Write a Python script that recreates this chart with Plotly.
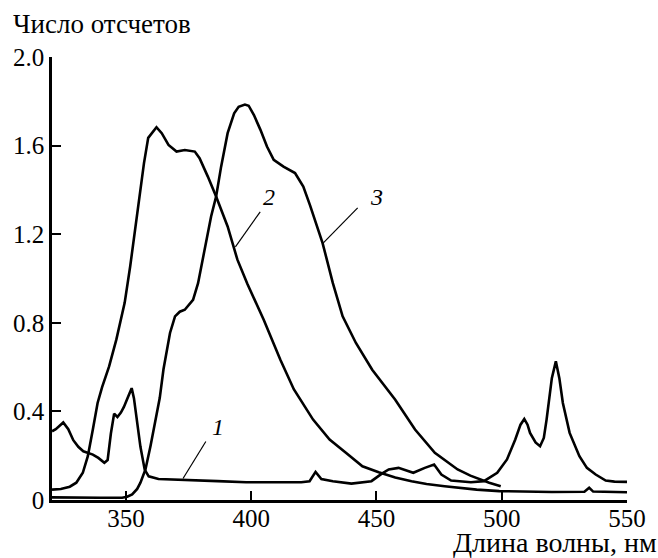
import plotly.graph_objects as go

# Curve 1
x1 = [320.5, 322, 325, 327, 329, 331, 333, 336.8, 339, 341.4, 342.7, 344, 345.3, 346.6, 348, 349.2, 351, 352.3,
      353.2, 354.1, 355.8, 357.5, 359.1, 363, 372, 386.6, 398, 410, 420, 423.3, 425.7, 428, 432.6, 440, 448,
      452, 454.9, 458.8, 462.7, 464.7, 469.3, 473, 475.9, 479.8, 487.7, 492.9, 498.2, 502.1, 505.4, 507.5,
      509, 510.3, 511.3, 513.5, 515.3, 516.8, 517.9, 520, 521.6, 523, 524.4, 527.1, 531, 534, 537.5, 541.5,
      545, 550]
y1 = [0.31, 0.32, 0.35, 0.32, 0.27, 0.24, 0.22, 0.205, 0.19, 0.168, 0.18, 0.30, 0.39, 0.375, 0.395, 0.42, 0.47,
      0.505, 0.46, 0.39, 0.24, 0.137, 0.107, 0.095, 0.092, 0.085, 0.08, 0.08, 0.08, 0.085, 0.127, 0.095, 0.085,
      0.074, 0.085, 0.118, 0.138, 0.145, 0.13, 0.123, 0.145, 0.16, 0.115, 0.088, 0.08, 0.085, 0.123, 0.183,
      0.273, 0.34, 0.366, 0.34, 0.303, 0.26, 0.243, 0.28, 0.363, 0.55, 0.626, 0.55, 0.438, 0.303, 0.198, 0.145,
      0.115, 0.088, 0.083, 0.082]

# Curve 2
x2 = [320.5, 324, 327.6, 330.2, 332.8, 334.8, 336.8, 338.7, 340.5, 343.3, 346.2, 349.5, 351.7, 353.6, 355.3,
      357.2, 358.9, 360.2, 362.2, 364.3, 367, 370.2, 373.5, 377.5, 379.4, 382.7, 386, 390.6, 394.5, 398.5, 405,
      411.6, 417, 424.7, 431.3, 437.8, 444.4, 450.9, 457.5, 464, 470, 477.2, 484, 490, 499, 505, 520, 533,
      534.9, 536.5, 550]
y2 = [0.047, 0.05, 0.06, 0.078, 0.123, 0.198, 0.318, 0.438, 0.51, 0.603, 0.725, 0.89, 1.054, 1.21, 1.37, 1.52,
      1.635, 1.655, 1.683, 1.656, 1.603, 1.573, 1.58, 1.573, 1.543, 1.46, 1.37, 1.235, 1.085, 0.975, 0.814,
      0.634, 0.5, 0.363, 0.273, 0.213, 0.152, 0.125, 0.102, 0.085, 0.072, 0.062, 0.053, 0.047, 0.04, 0.038,
      0.036, 0.037, 0.055, 0.038, 0.035]

# Curve 3
x3 = [320.5, 330, 340, 348.5, 350.5, 352.5, 354.5, 355.8, 357.8, 359.8, 361.7, 363.5, 365, 367.6, 369.6, 371.5,
      373.5, 376.8, 378.8, 381.4, 384, 386, 388, 390.6, 393.2, 395, 397.5, 399, 401.1, 403.7, 406.3, 409, 412.9,
      417.5, 420.8, 423.5, 426, 428.5, 432.6, 436.5, 441.8, 448.3, 457.5, 465.4, 473.3, 482.4, 487.5, 491.6,
      495, 499.6]
y3 = [0.012, 0.01, 0.01, 0.01, 0.015, 0.025, 0.05, 0.078, 0.138, 0.243, 0.348, 0.46, 0.59, 0.754, 0.829, 0.85,
      0.859, 0.904, 0.979, 1.13, 1.28, 1.37, 1.505, 1.656, 1.746, 1.775, 1.785, 1.78, 1.738, 1.671, 1.596, 1.536,
      1.505, 1.476, 1.415, 1.33, 1.25, 1.16, 0.979, 0.829, 0.709, 0.588, 0.453, 0.318, 0.213, 0.138, 0.11,
      0.092, 0.078, 0.062]

curve_labels = ["1", "2", "3"]
x_ticks = [350, 400, 450, 500, 550]
x_ticktext = ["350", "400", "450", "500", "550"]
y_ticks = [0, 0.4, 0.8, 1.2, 1.6, 2.0]
y_ticktext = ["0", "0.4", "0.8", "1.2", "1.6", "2.0"]
y_title = "Число отсчетов"
x_title = "Длина волны, нм"

FONT = "Liberation Serif"

fig = go.Figure()
for xs, ys in [(x1, y1), (x2, y2), (x3, y3)]:
    fig.add_trace(go.Scatter(x=xs, y=ys, mode="lines",
                             line=dict(color="black", width=2.6), showlegend=False,
                             hoverinfo="skip"))

label_pos = [
    (386.8, 0.331, (381.9, 0.264), (372.8, 0.097)),
    (407.0, 1.369, (403.6, 1.301), (393.7, 1.143)),
    (450.0, 1.369, (442.5, 1.319), (428.8, 1.161)),
]
for lab, (tx, ty, p0, p1) in zip(curve_labels, label_pos):
    fig.add_annotation(x=tx, y=ty, text=f"<i>{lab}</i>", showarrow=False,
                       font=dict(family=FONT, size=24, color="black"))
    fig.add_shape(type="line", x0=p0[0], y0=p0[1], x1=p1[0], y1=p1[1],
                  xref="x", yref="y", line=dict(color="black", width=1.2))

fig.add_annotation(xref="paper", yref="paper", x=-0.072, y=1.075, xanchor="left", yanchor="middle",
                   text=y_title, showarrow=False, font=dict(family=FONT, size=27, color="black"))
fig.add_annotation(xref="paper", yref="paper", x=1.056, y=-0.097, xanchor="right", yanchor="middle",
                   text=x_title, showarrow=False, font=dict(family=FONT, size=28, color="black"))

fig.update_layout(
    width=658, height=558,
    margin=dict(l=52, r=23, t=57, b=58),
    paper_bgcolor="white", plot_bgcolor="white",
    font=dict(family=FONT, size=25, color="black"),
    xaxis=dict(range=[320.5, 550], tickvals=x_ticks, ticktext=x_ticktext, ticks="inside",
               ticklen=9, tickwidth=2, tickcolor="black", showline=True, linecolor="black",
               linewidth=2.5, showgrid=False, zeroline=False, fixedrange=True,
               ticklabelstandoff=-6),
    yaxis=dict(range=[0, 2.0], tickvals=y_ticks, ticktext=y_ticktext, ticks="inside",
               ticklen=9, tickwidth=2, tickcolor="black", showline=True, linecolor="black",
               linewidth=2.5, showgrid=False, zeroline=False, fixedrange=True),
)

fig.write_html("out.html", config={"displayModeBar": False},
               post_script="document.body.style.margin='0';")
